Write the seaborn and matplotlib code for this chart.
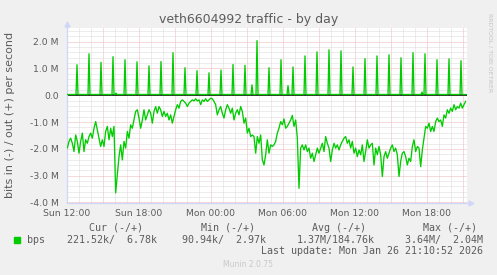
import numpy as np
import pandas as pd
import matplotlib
matplotlib.use("Agg")
import matplotlib.pyplot as plt
import matplotlib.dates as mdates
from matplotlib.ticker import MultipleLocator, FuncFormatter
from matplotlib.patches import Rectangle
import seaborn as sns

# ---------------- data ----------------
title = "veth6604992 traffic - by day"
ylabel = "bits in (-) / out (+) per second"
last_update = "Last update: Mon Jan 26 21:10:52 2026"
watermark = "Munin 2.0.75"
side_text = "RRDTOOL / TOBI OETIKER"

view_start = pd.Timestamp("2026-01-25 12:00")
view_minutes = 2000

# inbound traffic (drawn negative), Mbit/s, sampled every 500 s from 12:01:40
in_start = pd.Timestamp("2026-01-25 12:01:40")
in_step_seconds = 500
in_mbps = [
    1.97, 1.72, 1.60, 1.79, 2.10, 1.48, 1.72, 2.16, 1.72, 1.41,
    2.10, 1.66, 1.79, 1.54, 1.41, 1.60, 1.23, 0.98, 1.29, 1.60,
    1.91, 1.66, 1.91, 1.35, 1.16, 1.66, 1.23, 1.54, 1.16, 3.64,
    2.97, 2.29, 1.85, 2.41, 1.72, 1.97, 1.35, 1.60, 1.10, 1.23,
    0.92, 0.60, 0.54, 0.85, 1.23, 0.92, 0.54, 0.92, 0.73, 0.54,
    0.67, 1.04, 0.60, 0.42, 0.67, 0.42, 0.54, 0.79, 0.60, 0.79,
    0.67, 0.92, 0.73, 1.04, 0.79, 0.54, 0.35, 0.48, 0.23, 0.17,
    0.23, 0.29, 0.42, 0.29, 0.23, 0.17, 0.21, 0.13, 0.21, 0.17,
    0.35, 0.17, 0.23, 0.13, 0.23, 0.17, 0.11, 0.13, 0.23, 0.35,
    0.73, 0.54, 0.42, 0.67, 0.85, 0.54, 0.35, 0.48, 0.67, 0.48,
    0.92, 0.67, 0.54, 0.73, 0.42, 0.60, 1.04, 0.85, 1.41, 1.23,
    1.54, 1.48, 1.54, 2.16, 1.54, 1.79, 1.48, 2.41, 2.60, 2.22,
    1.66, 2.16, 1.85, 1.91, 1.85, 1.72, 1.41, 1.23, 0.98, 1.10,
    0.88, 1.23, 1.16, 1.04, 0.92, 0.75, 1.16, 0.92, 1.60, 3.47,
    1.97, 1.85, 2.04, 1.85, 2.10, 1.97, 2.35, 2.16, 2.47, 2.22,
    1.97, 2.16, 1.97, 1.79, 2.10, 1.54, 1.79, 1.97, 2.47, 2.04,
    1.79, 1.97, 1.85, 2.04, 1.85, 1.72, 1.60, 1.54, 1.79, 1.66,
    1.97, 1.72, 2.16, 1.97, 2.29, 2.04, 2.22, 1.85, 2.47, 2.10,
    1.66, 1.97, 1.85, 1.79, 2.60, 1.97, 2.22, 1.91, 2.22, 3.03,
    2.29, 2.10, 2.35, 2.16, 1.97, 1.85, 2.10, 1.97, 2.22, 3.03,
    2.47, 2.16, 2.10, 2.29, 2.60, 2.35, 2.47, 1.91, 1.66, 2.10,
    1.91, 1.97, 2.66, 2.04, 1.60, 1.16, 1.23, 1.04, 1.35, 1.16,
    1.35, 0.98, 0.85, 0.98, 0.92, 1.16, 0.73, 0.85, 0.54, 0.67,
    0.48, 0.60, 0.35, 0.54, 0.42, 0.48, 0.29, 0.48, 0.35, 0.22,
]

# outbound traffic (drawn positive), Mbit/s, 5-minute samples
out_step_minutes = 5
out_samples = 400
out_baseline_mbps = 0.03
spike_minutes = [50, 110, 170, 230, 290, 350, 410, 470, 530, 590, 650,
                 710, 770, 830, 890, 950, 1010, 1070, 1130, 1190, 1250,
                 1310, 1370, 1430, 1490, 1550, 1610, 1670, 1730, 1790,
                 1850, 1910, 1970,
                 245, 925, 1105, 1775]
spike_mbps = [1.14, 1.55, 1.23, 1.44, 1.33, 1.25, 1.10, 1.26, 1.59, 1.03, 0.92,
              0.84, 0.94, 1.15, 1.12, 2.04, 1.03, 1.33, 1.06, 1.47, 1.62,
              1.70, 1.66, 1.06, 1.37, 1.47, 1.51, 1.40, 1.59, 1.55,
              1.33, 1.36, 1.29,
              0.08, 0.39, 0.36, 0.12]

legend_headers = ["Cur (-/+)", "Min (-/+)", "Avg (-/+)", "Max (-/+)"]
legend_values = ["221.52k/  6.78k", "90.94k/  2.97k", "1.37M/184.76k", "3.64M/  2.04M"]
legend_label = "bps"

# ---------------- build frames ----------------
in_time = pd.date_range(in_start, periods=len(in_mbps), freq=f"{in_step_seconds}s")
df_in = pd.DataFrame({"time": in_time, "bps": -np.array(in_mbps) * 1e6})

out_time = pd.date_range(view_start, periods=out_samples, freq=f"{out_step_minutes}min")
out_vals = np.full(out_samples, out_baseline_mbps)
for m, p in zip(spike_minutes, spike_mbps):
    out_vals[m // out_step_minutes] = p
df_out = pd.DataFrame({"time": out_time, "bps": out_vals * 1e6})

# ---------------- style ----------------
W, H = 497, 275
BG = "#F0F0F0"
FONT = "#5C5C5C"
AXIS = "#CFD6F8"
GREEN = "#00CC00"

sns.set_style("white")
plt.rcParams["font.family"] = ["DejaVu Sans"]

fig = plt.figure(figsize=(W / 100, H / 100), dpi=100, facecolor=BG)
L, R, T, B = 67, 467, 28.3, 202.5
ax = fig.add_axes([L / W, 1 - B / H, (R - L) / W, (B - T) / H])
ax.set_facecolor("white")

ax.axhline(0, color="black", lw=1.1, zorder=2)
sns.lineplot(data=df_in, x="time", y="bps", ax=ax, color=GREEN, lw=0.95, zorder=3)
sns.lineplot(data=df_out, x="time", y="bps", ax=ax, color=GREEN, lw=0.95, zorder=3)

ax.set_xlim(view_start, view_start + pd.Timedelta(minutes=view_minutes))
ax.set_ylim(-4.0e6, 2.5e6)
ax.set_xlabel("")
ax.set_ylabel("")

ax.xaxis.set_major_locator(mdates.HourLocator(byhour=range(0, 24, 3)))
ax.xaxis.set_minor_locator(mdates.HourLocator())


def xfmt(x, pos):
    d = mdates.num2date(x)
    return d.strftime("%a %H:%M") if d.hour % 6 == 0 else ""


ax.xaxis.set_major_formatter(FuncFormatter(xfmt))
ax.yaxis.set_major_locator(MultipleLocator(1e6))
ax.yaxis.set_minor_locator(MultipleLocator(0.2e6))
ax.yaxis.set_major_formatter(FuncFormatter(
    lambda v, p: "0.0" if abs(v) < 1 else f"{v / 1e6:.1f} M"))

ax.grid(True, which="minor", color="#DADADA", lw=0.72, linestyle=(0, (1, 1)))
ax.grid(True, which="major", color="#EEB4B4", lw=0.72, linestyle=(0, (1, 1)))
ax.set_axisbelow(True)

ax.tick_params(axis="both", which="both", length=0, colors=FONT, labelsize=6.7)
ax.tick_params(axis="y", pad=6)
ax.tick_params(axis="x", pad=5)

for s in ["top", "right"]:
    ax.spines[s].set_visible(False)
for s in ["left", "bottom"]:
    ax.spines[s].set_color(AXIS)
    ax.spines[s].set_linewidth(0.9)

# axis extensions and arrows
ax.plot([0, 0], [1, 1.02], transform=ax.transAxes, color=AXIS, lw=0.9, clip_on=False)
ax.plot([1, 1.01], [0, 0], transform=ax.transAxes, color=AXIS, lw=0.9, clip_on=False)
ax.plot([0], [1.025], marker="^", ms=3.5, color=AXIS, transform=ax.transAxes, clip_on=False)
ax.plot([1.01], [0], marker=">", ms=3.5, color=AXIS, transform=ax.transAxes, clip_on=False)


def px(x, y):
    return x / W, 1 - y / H


fig.text(*px(248.5, 23), title, ha="center", va="baseline", fontsize=9, color=FONT)
fig.text(*px(10, 115.4), ylabel, ha="center", va="center", rotation=90,
         fontsize=8, color=FONT)
fig.text(*px(490, 53), side_text, ha="center", va="center", rotation=270,
         fontsize=4.4, color="#C4C4C4")
fig.text(*px(247.7, 264.3), watermark, ha="center", va="center", fontsize=5.5,
         color="#C8C8C8")

mono = "DejaVu Sans Mono"
for xh, t in zip([89, 200.7, 311.7, 422.7], legend_headers):
    fig.text(*px(xh, 227.7), t, ha="left", va="center", fontsize=7.2,
             family=mono, color=FONT)
fig.text(*px(27, 239.7), legend_label, ha="left", va="center", fontsize=7.2,
         family=mono, color=FONT)
for xr, t in zip([157, 266.5, 374.3, 482.7], legend_values):
    fig.text(*px(xr, 239.7), t, ha="right", va="center", fontsize=7.2,
             family=mono, color=FONT)
fig.text(*px(482.7, 251.3), last_update, ha="right", va="center", fontsize=7.2,
         family=mono, color=FONT)
fig.patches.append(Rectangle(px(14, 242.5), 5.5 / W, 5.5 / H, transform=fig.transFigure,
                             color=GREEN, figure=fig))

fig.savefig("out.png", dpi=100, facecolor=BG)
